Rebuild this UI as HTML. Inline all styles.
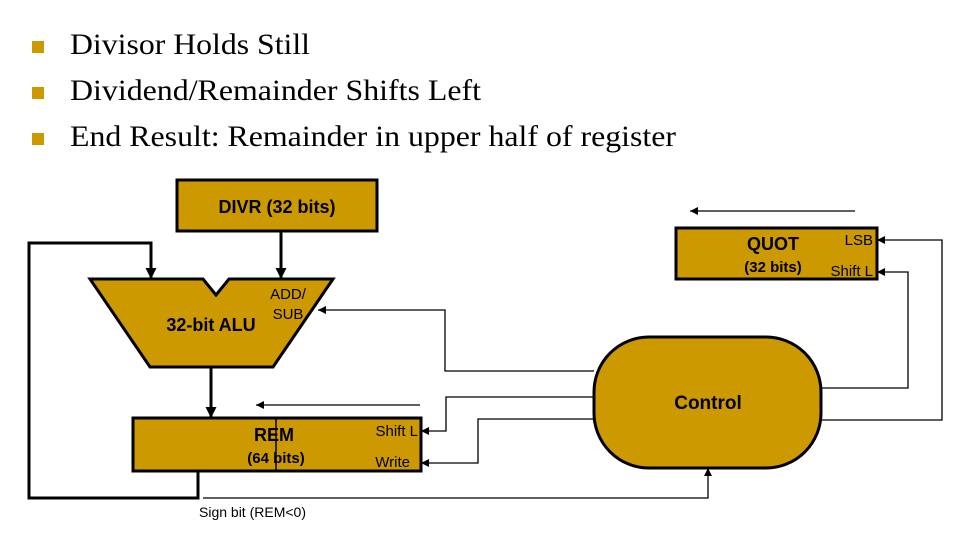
<!DOCTYPE html>
<html><head><meta charset="utf-8"><style>
html,body{margin:0;padding:0;background:#fff;width:970px;height:536px;overflow:hidden}
</style></head><body>
<svg width="970" height="536" viewBox="0 0 970 536" xmlns="http://www.w3.org/2000/svg">
<defs>
<marker id="a" viewBox="0 0 10 10" refX="10" refY="5" markerWidth="8" markerHeight="8" markerUnits="userSpaceOnUse" orient="auto"><path d="M0,0 L10,5 L0,10 z" fill="#000"/></marker>
<marker id="b" viewBox="0 0 10 10" refX="10" refY="5" markerWidth="11" markerHeight="11" markerUnits="userSpaceOnUse" orient="auto"><path d="M0,0 L10,5 L0,10 z" fill="#000"/></marker>
</defs>
<g fill="#cc9900">
<rect x="32" y="41" width="12" height="12"/>
<rect x="32" y="87" width="12" height="12"/>
<rect x="32" y="133" width="12" height="12"/>
</g>
<g font-family="Liberation Serif, serif" font-size="30" fill="#000">
<text x="70" y="54" textLength="240" lengthAdjust="spacingAndGlyphs">Divisor Holds Still</text>
<text x="70" y="100" textLength="411" lengthAdjust="spacingAndGlyphs">Dividend/Remainder Shifts Left</text>
<text x="70" y="146" textLength="606" lengthAdjust="spacingAndGlyphs">End Result: Remainder in upper half of register</text>
</g>
<g stroke="#000" fill="#cc9900" stroke-width="3">
<rect x="177" y="180" width="200" height="51"/>
<path d="M90,279 L203,279 L216,295 L229,279 L333,279 L273,367 L150,367 Z"/>
<rect x="133" y="418" width="288" height="53"/>
<rect x="676" y="228" width="201" height="51"/>
<rect x="594" y="337" width="227" height="131" rx="55" ry="55"/>
</g>
<line x1="276" y1="418" x2="276" y2="471" stroke="#000" stroke-width="1.5"/>
<g fill="none" stroke="#000" stroke-width="3">
<path d="M281,231 L281,279" marker-end="url(#b)"/>
<path d="M198,471 L198,498 L29,498 L29,243 L151,243 L151,279" marker-end="url(#b)"/>
<path d="M211,367 L211,418" marker-end="url(#b)"/>
</g>
<g fill="none" stroke="#000" stroke-width="1.3">
<path d="M420,405 L256,405" marker-end="url(#a)"/>
<path d="M855,211 L690,211" marker-end="url(#a)"/>
<path d="M594,371 L445,371 L445,310 L318,310" marker-end="url(#a)"/>
<path d="M594,397 L446,397 L446,431 L421,431" marker-end="url(#a)"/>
<path d="M594,419 L478,419 L478,463 L421,463" marker-end="url(#a)"/>
<path d="M203,498 L708,498 L708,468" marker-end="url(#a)"/>
<path d="M821,420 L942,420 L942,240 L877,240" marker-end="url(#a)"/>
<path d="M821,388 L908,388 L908,272 L877,272" marker-end="url(#a)"/>
</g>
<g font-family="Liberation Sans, sans-serif" fill="#000">
<text x="277" y="213" font-size="18" font-weight="bold" text-anchor="middle">DIVR (32 bits)</text>
<text x="211" y="331" font-size="18" font-weight="bold" text-anchor="middle">32-bit ALU</text>
<text x="288" y="299" font-size="15" text-anchor="middle">ADD/</text>
<text x="288" y="319" font-size="15" text-anchor="middle">SUB</text>
<text x="274" y="441" font-size="18" font-weight="bold" text-anchor="middle">REM</text>
<text x="276" y="463" font-size="15" font-weight="bold" text-anchor="middle">(64 bits)</text>
<text x="418" y="436" font-size="15" text-anchor="end">Shift L</text>
<text x="410" y="467" font-size="15" text-anchor="end">Write</text>
<text x="773" y="250" font-size="18" font-weight="bold" text-anchor="middle">QUOT</text>
<text x="773" y="272" font-size="15" font-weight="bold" text-anchor="middle">(32 bits)</text>
<text x="873" y="245" font-size="15" text-anchor="end">LSB</text>
<text x="873" y="276" font-size="15" text-anchor="end">Shift L</text>
<text x="708" y="409" font-size="19" font-weight="bold" text-anchor="middle">Control</text>
<text x="199" y="517" font-size="14">Sign bit (REM&lt;0)</text>
</g>
</svg>
</body></html>
